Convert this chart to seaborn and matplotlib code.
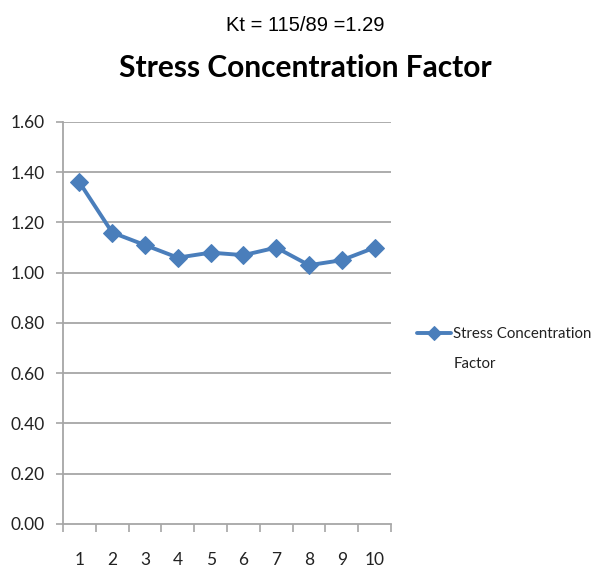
import matplotlib
matplotlib.use("Agg")
import matplotlib.pyplot as plt
import seaborn as sns
import pandas as pd
import numpy as np

# Data
positions = [1, 2, 3, 4, 5, 6, 7, 8, 9, 10]
factor_values = [1.36, 1.16, 1.11, 1.06, 1.08, 1.07, 1.10, 1.03, 1.05, 1.10]
y_ticks = [0.00, 0.20, 0.40, 0.60, 0.80, 1.00, 1.20, 1.40, 1.60]
series_lines = ["Stress Concentration", "Factor"]

sns.set_theme(style="white")
plt.rcParams["font.family"] = ["Lato", "DejaVu Sans"]

df = pd.DataFrame({"pos": positions, "value": factor_values})

fig = plt.figure(figsize=(6.11, 5.77), dpi=100)
ax = fig.add_axes([0.1031, 0.0919, 0.537, 0.6967])

blue = "#4A7EBB"
grid_c = "#A6A6A6"
text_c = "#222222"

for t in y_ticks[1:]:
    ax.axhline(t, color=grid_c, lw=1.3, zorder=0)

sns.lineplot(data=df, x="pos", y="value", ax=ax, color=blue, lw=2.8,
             marker="D", markersize=9.5, markeredgecolor=blue,
             label=series_lines[0], zorder=3)

ax.set_xlim(0.5, 10.5)
ax.set_ylim(0, 1.6)
ax.set_yticks(y_ticks)
ax.set_yticklabels([f"{t:.2f}" for t in y_ticks], fontsize=12.5, color=text_c)
ax.set_xticks(positions)
ax.set_xticklabels([str(p) for p in positions], fontsize=12.5, color=text_c)
ax.set_xticks(np.arange(0.5, 11, 1.0), minor=True)
ax.tick_params(axis="x", which="major", length=0, pad=20)
ax.tick_params(axis="x", which="minor", length=6, width=1.2, color=grid_c, direction="out", bottom=True)
ax.tick_params(axis="y", length=5, width=1.2, color=grid_c, direction="out", left=True, pad=8)
ax.set_xlabel("")
ax.set_ylabel("")

for s in ["top", "right"]:
    ax.spines[s].set_visible(False)
for s in ["left", "bottom"]:
    ax.spines[s].set_color(grid_c)
    ax.spines[s].set_linewidth(1.3)

# Legend entry; the wrapped second line of the series name sits below it
leg = ax.legend(loc="center left", bbox_to_anchor=(0.682, 1 - 334 / 577), bbox_transform=fig.transFigure,
                frameon=False, fontsize=10.8, handlelength=2.3, handletextpad=0.15,
                borderpad=0, borderaxespad=0, labelcolor=text_c, markerscale=0.7)
fig.canvas.draw()
first = leg.get_texts()[0].get_window_extent()
x0 = fig.transFigure.inverted().transform((first.x0, first.y0))[0]
fig.text(x0, 1 - 364 / 577, series_lines[1], ha="left", va="center",
         fontsize=10.8, color=text_c)

fig.text(0.5, 0.955, "Kt = 115/89 =1.29", ha="center", va="center",
         fontsize=14.5, family=["Liberation Sans", "DejaVu Sans"], color="black")
fig.text(0.5, 0.883, "Stress Concentration Factor", ha="center", va="center",
         fontsize=21.5, fontweight="bold", color="black")

fig.savefig("out.png", dpi=100)
